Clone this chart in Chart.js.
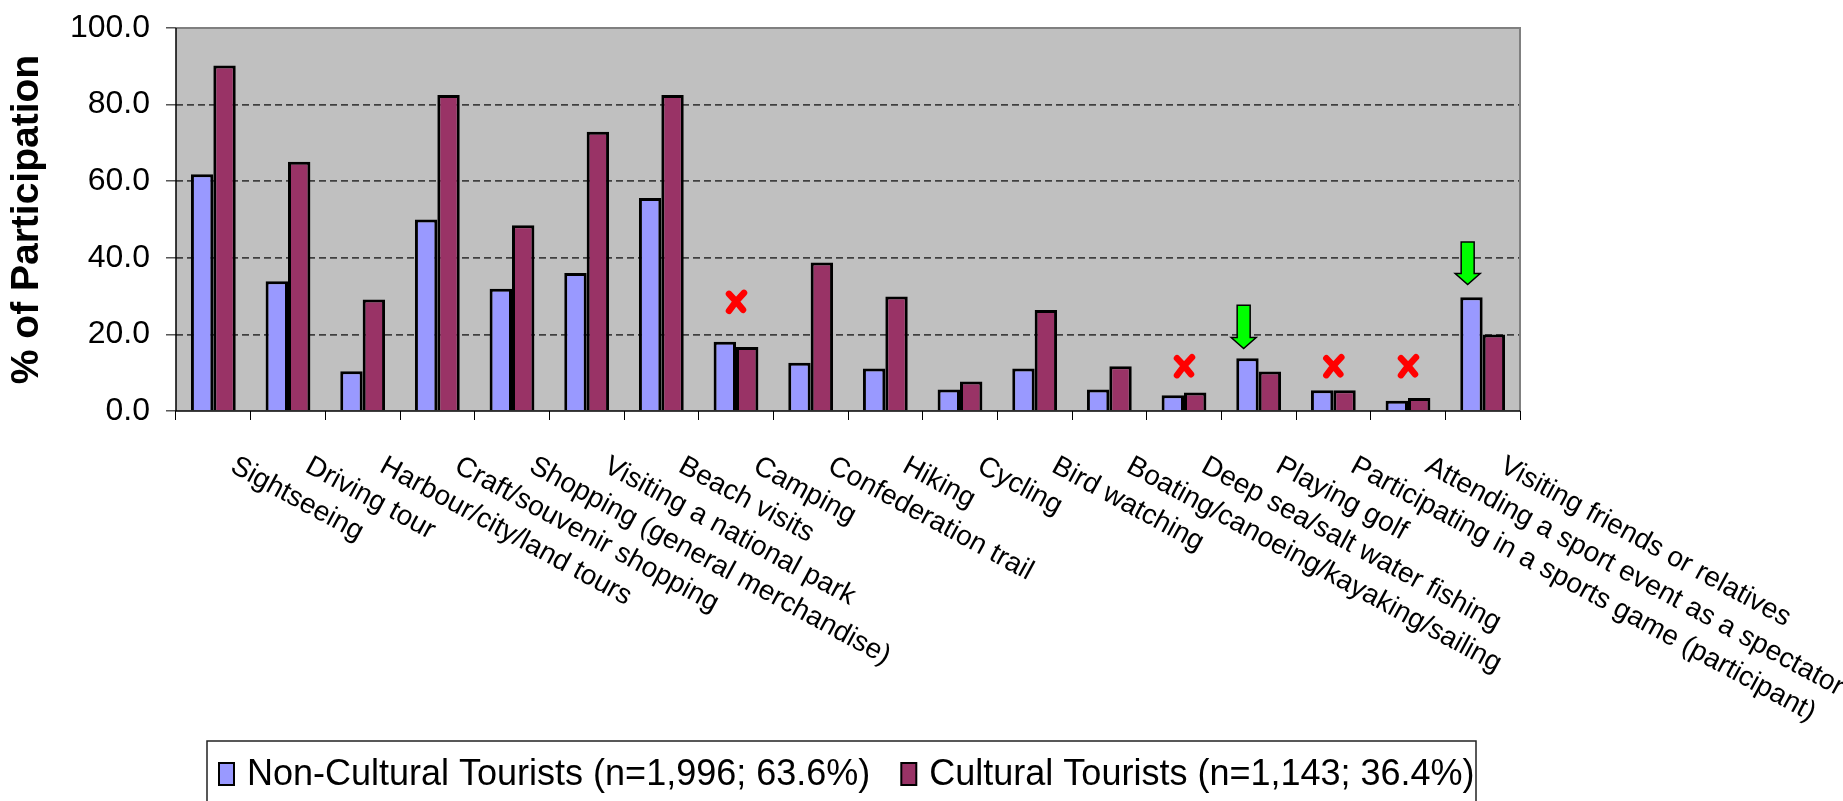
<!DOCTYPE html>
<html>
<head>
<meta charset="utf-8">
<script src="https://cdn.jsdelivr.net/npm/chart.js@4.4.1/dist/chart.umd.min.js"></script>
<style>
  html, body { margin: 0; padding: 0; background: #ffffff; }
  #wrap { position: relative; width: 1843px; height: 801px; }
</style>
</head>
<body>
<div id="wrap"><canvas id="c"></canvas></div>
<script>
// ---- data ----
const categories = [
  "Sightseeing", "Driving tour", "Harbour/city/land tours", "Craft/souvenir shopping",
  "Shopping (general merchandise)", "Visiting a national park", "Beach visits", "Camping",
  "Confederation trail", "Hiking", "Cycling", "Bird watching",
  "Boating/canoeing/kayaking/sailing", "Deep sea/salt water fishing", "Playing golf",
  "Participating in a sports game (participant)", "Attending a sport event as a spectator",
  "Visiting friends or relatives"
];
const seriesNames = ["Non-Cultural Tourists (n=1,996; 63.6%)", "Cultural Tourists (n=1,143; 36.4%)"];
const nonCultural = [61.8, 33.9, 10.4, 50.0, 31.9, 36.0, 55.6, 18.1, 12.6, 11.1, 5.6, 11.1, 5.6, 4.1, 13.8, 5.4, 2.7, 29.7];
const cultural    = [90.2, 65.1, 29.1, 82.5, 48.5, 72.9, 82.5, 16.7, 38.8, 29.9, 7.7, 26.4, 11.7, 4.8, 10.3, 5.4, 3.4, 20.0];
const yTicks = [0, 20, 40, 60, 80, 100];
const yTitle = "% of Participation";
// annotation marks (category index, value)
const crossCats = [7, 13, 15, 16];
const crossValues = [28.5, 11.7, 11.7, 11.7];
const arrowCats = [14, 17];
const arrowTopValues = [27.6, 44.1];
const arrowTipValues = [16.3, 33.0];

const FONT = "'Liberation Sans', Arial, Helvetica, sans-serif";
const PLOT_TOP = 28, PLOT_BOTTOM = 411, PLOT_LEFT = 176, PLOT_RIGHT = 1520, H = 801, W = 1843;

const plotBg = {
  id: 'plotBg',
  beforeDraw(chart) {
    const {ctx, chartArea: a} = chart;
    ctx.save();
    ctx.fillStyle = '#c0c0c0';
    ctx.fillRect(a.left, a.top, a.right - a.left, a.bottom - a.top);
    ctx.restore();
  },
  afterDatasetsDraw(chart) {
    const {ctx, chartArea: a} = chart;
    ctx.save();
    ctx.strokeStyle = '#808080';
    ctx.lineWidth = 2;
    ctx.beginPath();
    ctx.moveTo(a.left, a.top); ctx.lineTo(a.right, a.top); ctx.lineTo(a.right, a.bottom);
    ctx.stroke();
    ctx.strokeStyle = '#000';
    ctx.lineWidth = 1.5;
    ctx.beginPath();
    ctx.moveTo(a.left, a.top); ctx.lineTo(a.left, a.bottom); ctx.lineTo(a.right, a.bottom);
    ctx.stroke();
    ctx.restore();
  }
};

const marks = {
  id: 'marks',
  afterDatasetsDraw(chart) {
    const {ctx} = chart;
    const xs = chart.scales.x, ys = chart.scales.y;
    ctx.save();
    // red crosses
    ctx.strokeStyle = '#ff0000';
    ctx.lineCap = 'round';
    ctx.lineWidth = 6.5;
    crossCats.forEach((c, i) => {
      const x = xs.getPixelForValue(c);
      const y = ys.getPixelForValue(crossValues[i]);
      ctx.beginPath();
      ctx.moveTo(x - 7, y - 8);
      ctx.quadraticCurveTo(x, y - 1, x + 7, y + 8);
      ctx.moveTo(x + 8, y - 9);
      ctx.quadraticCurveTo(x - 1, y, x - 7, y + 9);
      ctx.stroke();
    });
    // green arrows
    ctx.lineCap = 'butt';
    ctx.lineJoin = 'miter';
    ctx.fillStyle = '#00ff00';
    ctx.strokeStyle = '#000';
    ctx.lineWidth = 1.5;
    arrowCats.forEach((c, i) => {
      const x = xs.getPixelForValue(c) - 15;
      const yt = ys.getPixelForValue(arrowTopValues[i]);
      const yp = ys.getPixelForValue(arrowTipValues[i]);
      const hh = 11, sw = 6.5, hw = 12.5;
      ctx.beginPath();
      ctx.moveTo(x - sw, yt);
      ctx.lineTo(x + sw, yt);
      ctx.lineTo(x + sw, yp - hh);
      ctx.lineTo(x + hw, yp - hh);
      ctx.lineTo(x, yp);
      ctx.lineTo(x - hw, yp - hh);
      ctx.lineTo(x - sw, yp - hh);
      ctx.closePath();
      ctx.fill();
      ctx.stroke();
    });
    ctx.restore();
  }
};

const xLabels = {
  id: 'xLabels',
  afterDraw(chart) {
    const {ctx} = chart;
    const xs = chart.scales.x;
    ctx.save();
    ctx.fillStyle = '#000';
    ctx.font = '28px ' + FONT;
    ctx.textAlign = 'left';
    ctx.textBaseline = 'top';
    chart.data.labels.forEach((lab, i) => {
      const x = xs.getPixelForValue(i);
      ctx.save();
      ctx.translate(x + 26, 452);
      ctx.rotate(28.5 * Math.PI / 180);
      ctx.fillText(lab, 0, 0);
      ctx.restore();
    });
    ctx.restore();
  }
};

const boxLegend = {
  id: 'boxLegend',
  afterDraw(chart) {
    const {ctx} = chart;
    ctx.save();
    ctx.strokeStyle = '#222';
    ctx.lineWidth = 1.5;
    ctx.fillStyle = '#fff';
    ctx.fillRect(207, 741, 1476 - 207, 100);
    ctx.strokeRect(207, 741, 1476 - 207, 100);
    ctx.font = '36px ' + FONT;
    ctx.textBaseline = 'middle';
    ctx.textAlign = 'left';
    let x = 219;
    const cy = 774;
    chart.data.datasets.forEach((ds) => {
      ctx.fillStyle = ds.backgroundColor;
      ctx.fillRect(x, cy - 11, 15, 22);
      ctx.strokeStyle = '#000';
      ctx.lineWidth = 2;
      ctx.strokeRect(x, cy - 11, 15, 22);
      ctx.fillStyle = '#000';
      ctx.fillText(ds.label, x + 28, cy + 1);
      x += 28 + ctx.measureText(ds.label).width + 31;
    });
    ctx.restore();
  }
};

new Chart(document.getElementById('c'), {
  type: 'bar',
  data: {
    labels: categories,
    datasets: [
      { label: seriesNames[0], data: nonCultural, backgroundColor: '#9999ff', borderColor: '#000', borderWidth: 3 },
      { label: seriesNames[1], data: cultural, backgroundColor: '#993366', borderColor: '#000', borderWidth: 3 }
    ]
  },
  options: {
    responsive: true,
    maintainAspectRatio: false,
    animation: false,
    layout: { padding: { top: PLOT_TOP, right: W - PLOT_RIGHT, bottom: 0, left: 0 } },
    datasets: { bar: { categoryPercentage: 0.6, barPercentage: 1.0 } },
    plugins: {
      legend: { display: false },
      tooltip: { enabled: false }
    },
    scales: {
      x: {
        offset: true,
        ticks: { display: false },
        grid: { display: true, drawOnChartArea: false, drawTicks: true, tickLength: 9, tickColor: '#000', tickWidth: 1, offset: true },
        border: { display: false },
        afterFit(s) { s.height = H - PLOT_BOTTOM; s.paddingLeft = 0; s.paddingRight = 0; }
      },
      y: {
        min: 0, max: 100,
        afterBuildTicks(s) { s.ticks = yTicks.map(v => ({ value: v })); },
        ticks: {
          color: '#000',
          font: { family: FONT, size: 32 },
          padding: 16,
          callback: (v) => Number(v).toFixed(1)
        },
        grid: {
          display: true,
          drawOnChartArea: true,
          drawTicks: true,
          tickLength: 10,
          tickColor: '#000',
          tickWidth: 1,
          lineWidth: 1.7,
          color: (c) => (c.tick && (c.tick.value === 0 || c.tick.value === 100)) ? 'rgba(0,0,0,0)' : '#404040'
        },
        border: { display: false, dash: [7, 4] },
        title: {
          display: true,
          text: yTitle,
          color: '#000',
          font: { family: FONT, size: 39, weight: 'bold' },
          padding: { top: 4, bottom: 0 }
        },
        afterFit(s) { s.width = PLOT_LEFT; s.paddingTop = 0; s.paddingBottom = 0; }
      }
    }
  },
  plugins: [plotBg, marks, xLabels, boxLegend]
});
</script>
</body>
</html>
